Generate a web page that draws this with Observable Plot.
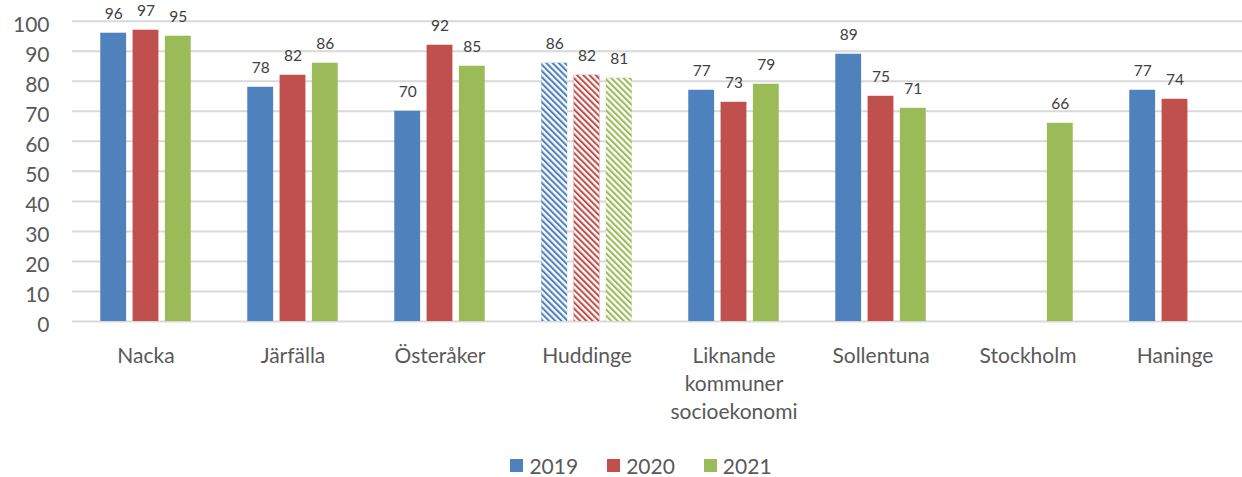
<!DOCTYPE html>
<html><head><meta charset="utf-8">
<script src="https://cdn.jsdelivr.net/npm/d3@7"></script>
<script src="https://cdn.jsdelivr.net/npm/@observablehq/plot@0.6"></script>
<style>
html,body{margin:0;padding:0;background:#fff;font-family:Lato,sans-serif;overflow:hidden;}
#legend{display:flex;justify-content:center;align-items:center;gap:29px;font-size:21px;color:#595959;padding-left:40px;height:32px;margin-top:4px;}
#legend .item{display:flex;align-items:center;gap:6px;}
#legend .sw{width:13px;height:13px;display:inline-block;}
</style></head><body>
<svg width="0" height="0" style="position:absolute"><defs>
<pattern id="stripes" patternUnits="userSpaceOnUse" width="8" height="4.4" patternTransform="rotate(45)">
<rect x="0" y="0" width="8" height="2.3" fill="white"/></pattern></defs></svg>
<div id="chart"></div>
<div id="legend"></div>
<script>
const categories = ["Nacka","Järfälla","Österåker","Huddinge","Liknande\nkommuner\nsocioekonomi","Sollentuna","Stockholm","Haninge"];
const years = ["2019","2020","2021"];
const v2019 = [96,78,70,86,77,89,null,77];
const v2020 = [97,82,92,82,73,75,null,74];
const v2021 = [95,86,85,81,79,71,66,null];
const hatchedCategories = ["Huddinge"];
const colors = ["#4F81BD","#C0504D","#9BBB59"];
const yTicks = [0,10,20,30,40,50,60,70,80,90,100];

const series = [v2019, v2020, v2021];
const rows = [];
categories.forEach((c,i) => years.forEach((y,j) => {
  const v = series[j][i];
  if (v != null) rows.push({category: c, year: y, value: v});
}));
const hatchedRows = rows.filter(d => hatchedCategories.includes(d.category));

const plot = Plot.plot({
  width: 1242, height: 445,
  marginLeft: 68.5, marginRight: -10, marginTop: 20.7, marginBottom: 124,
  fx: {domain: categories, padding: 0, label: null},
  x: {domain: years, paddingInner: 0.2, paddingOuter: 0.875, round: false, axis: null},
  y: {domain: [0,100], label: null},
  color: {domain: years, range: colors},
  style: {fontFamily: "Lato, sans-serif", background: "white"},
  marks: [
    Plot.gridY(yTicks, {stroke: "#d9d9d9", strokeOpacity: 1, strokeWidth: 2}),
    Plot.axisY({ticks: yTicks, tickSize: 0, tickPadding: 23, fontSize: 21, color: "#595959", label: null, dy: 4}),
    Plot.axisFx({anchor: "bottom", tickSize: 0, tickPadding: 22, fontSize: 21, lineHeight: 1.32, color: "#595959", label: null}),
    Plot.barY(rows, {fx: "category", x: "year", y: "value", fill: "year"}),
    Plot.barY(hatchedRows, {fx: "category", x: "year", y: "value", fill: "url(#stripes)"}),
    Plot.text(rows, {fx: "category", x: "year", y: "value", text: d => String(d.value), lineAnchor: "middle", dy: -19.5, fontSize: 15.5, fill: "#404040"})
  ]
});
document.getElementById("chart").appendChild(plot);

const legend = document.getElementById("legend");
years.forEach((y,i) => {
  const item = document.createElement("div");
  item.className = "item";
  const sw = document.createElement("span");
  sw.className = "sw"; sw.style.background = colors[i];
  const t = document.createElement("span"); t.textContent = y;
  item.appendChild(sw); item.appendChild(t);
  legend.appendChild(item);
});
</script>
</body></html>
